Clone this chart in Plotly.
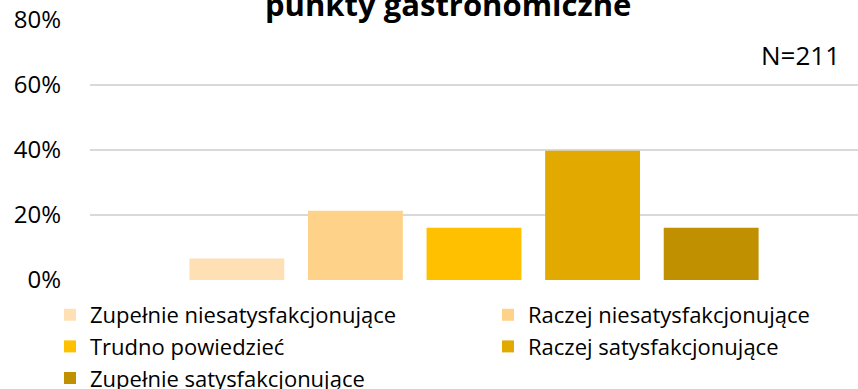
import plotly.graph_objects as go

# Ocena: punkty gastronomiczne (N=211)
series_names = [
    "Zupełnie niesatysfakcjonujące",
    "Raczej niesatysfakcjonujące",
    "Trudno powiedzieć",
    "Raczej satysfakcjonujące",
    "Zupełnie satysfakcjonujące",
]
series_values = [0.066, 0.213, 0.161, 0.398, 0.161]
series_colors = ["#FFE0B5", "#FFD28A", "#FFC000", "#E2AA00", "#C09000"]
category = [""]
y_ticks = [0, 0.2, 0.4, 0.6, 0.8]
y_tick_labels = ["0%", "20%", "40%", "60%", "80%"]

# legend columns: left column holds entries 1, 3, 5; right column 2, 4
legend_of = ["legend", "legend2", "legend", "legend2", "legend"]

FONT = "Open Sans"

fig = go.Figure()
for name, val, col, lg in zip(series_names, series_values, series_colors, legend_of):
    fig.add_trace(go.Bar(
        x=category, y=[val], name=name, legend=lg,
        marker=dict(color=col, line=dict(width=0)),
    ))

legend_common = dict(
    orientation="v", traceorder="normal",
    yanchor="top", xanchor="left",
    font=dict(size=22, family=FONT),
    itemwidth=30, tracegroupgap=0,
    bgcolor="rgba(0,0,0,0)",
)

fig.update_layout(
    width=858, height=389,
    margin=dict(l=90, r=0, t=20, b=109, autoexpand=False),
    paper_bgcolor="white", plot_bgcolor="white",
    barmode="group", bargap=0.228, bargroupgap=0.2,
    font=dict(family=FONT, color="#000000"),
    showlegend=True,
    legend=dict(legend_common, x=(50 - 90) / 768, y=(280 - 294) / 260),
    legend2=dict(legend_common, x=(488 - 90) / 768, y=(280 - 294) / 260),
    xaxis=dict(showticklabels=False, showgrid=False, zeroline=False,
               showline=False, ticks=""),
    yaxis=dict(
        range=[0, 0.8], tickvals=y_ticks, ticktext=y_tick_labels,
        showgrid=True, gridcolor="#D9D9D9", gridwidth=2,
        zeroline=False, showline=False, ticks="",
        ticklabelstandoff=28,
        tickfont=dict(size=24, family=FONT),
    ),
    annotations=[
        dict(text="<b>punkty gastronomiczne</b>", xref="paper", yref="paper",
             x=(448 - 90) / 768, xanchor="center", y=1 - 7 / 260, yanchor="bottom",
             showarrow=False, font=dict(size=31, family=FONT)),
        dict(text="N=211", xref="paper", yref="paper",
             x=(842 - 90) / 768, xanchor="right", y=(280 - 55) / 260,
             yanchor="middle", showarrow=False,
             font=dict(size=26, family=FONT)),
    ],
)

fig.write_html("out.html")
